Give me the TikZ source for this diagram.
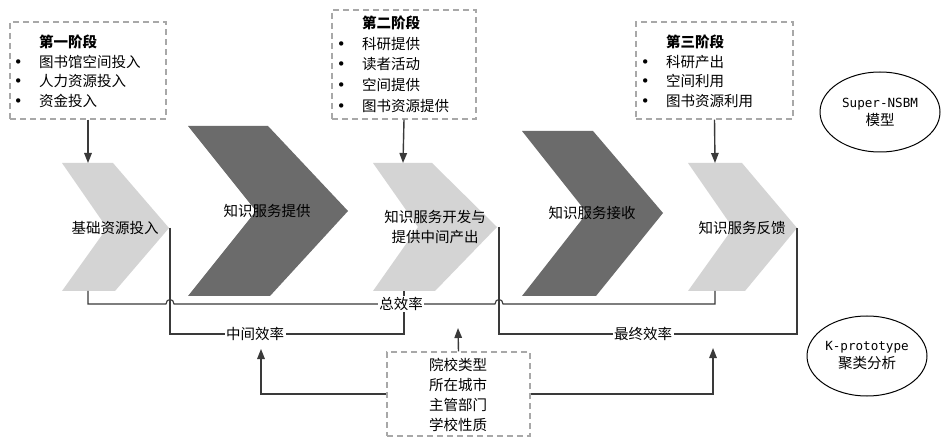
\documentclass[tikz,border=0pt]{standalone}
\usepackage{fontspec}
\setmainfont{Noto Sans CJK SC}
\newfontfamily\monofont{DejaVu Sans Mono}
\newfontfamily\bulfont{DejaVu Sans}
\usetikzlibrary{arrows.meta,shapes.geometric}
\definecolor{lightchev}{HTML}{D4D4D4}
\definecolor{darkchev}{HTML}{6B6B6B}
\definecolor{linec}{HTML}{3A3A3A}
\definecolor{dashc}{HTML}{A8A8A8}
\newcommand\stagebullet{\makebox[21pt][l]{\makebox[0pt][c]{\bulfont\fontsize{15}{15}\selectfont •}}}
\begin{document}
\begin{tikzpicture}[x=1pt,y=-1pt,
  lightshape/.style={fill=lightchev},
  darkshape/.style={fill=darkchev},
  dashbox/.style={draw=dashc, line width=1.1pt, dash pattern=on 6pt off 4pt, inner sep=0pt},
  stagetext/.style={anchor=base west, inner sep=0pt},
  chevlabel/.style={font=\fontsize{14.5}{20}\selectfont, inner sep=0pt, align=center, text=black},
  efflabel/.style={font=\fontsize{14.5}{18}\selectfont, fill=white, inner sep=1.5pt},
  conn/.style={draw=linec, line width=1.1pt},
  arr/.style={draw=linec, line width=1.4pt, -{Triangle[length=10pt,width=7.5pt]}},
  oval/.style={draw=black, line width=1pt, ellipse, minimum width=120pt, minimum height=80pt, inner sep=0pt, align=center, font=\fontsize{14.5}{18}\selectfont},
]
\useasboundingbox[fill=white] (0,0) rectangle (945,438);

% chevrons
\fill[lightshape] (62,163) -- (113,163) -- (169,228) -- (115,291) -- (62,291) -- (107,228) -- cycle;
\fill[darkshape] (188,126) -- (268,126) -- (348,211) -- (270,296) -- (188,296) -- (256,211) -- cycle;
\fill[lightshape] (373,163) -- (432,163) -- (497,227) -- (435,291) -- (373,291) -- (418,227) -- cycle;
\fill[darkshape] (522,131) -- (593,131) -- (663,213) -- (596,296) -- (522,296) -- (587,213) -- cycle;
\fill[lightshape] (688,163) -- (742,163) -- (797,228) -- (745,291) -- (688,291) -- (733,228) -- cycle;

\coordinate (c1top) at (88,163);
\coordinate (c1bot) at (88,291);
\coordinate (c1tip) at (170,228);
\coordinate (c3top) at (403,163);
\coordinate (c3bot) at (404,291);
\coordinate (c3tip) at (499,227);
\coordinate (c5top) at (715,163);
\coordinate (c5bot) at (715,291);
\coordinate (c5tip) at (797,228);

\node[chevlabel] (t1) at (115,228) {基础资源投入};
\node[chevlabel] (t2) at (267,211) {知识服务提供};
\node[chevlabel] (t3) at (435,227) {知识服务开发与\\提供中间产出};
\node[chevlabel] (t4) at (592,213) {知识服务接收};
\node[chevlabel] (t5) at (742,228) {知识服务反馈};

% stage boxes
\node[dashbox, minimum width=156pt, minimum height=97pt] (box1) at (88,70.5) {};
\node[stagetext, font=\fontsize{14.5}{19.7}\selectfont] (box1text) at (18,47.5) {\begin{tabular}[t]{@{}l@{}}
\hspace*{21pt}\textbf{第一阶段}\\
\stagebullet 图书馆空间投入\\
\stagebullet 人力资源投入\\
\stagebullet 资金投入
\end{tabular}};

\node[dashbox, minimum width=144pt, minimum height=109pt] (box2) at (404,64.5) {};
\node[stagetext, font=\fontsize{14.5}{20.7}\selectfont] (box2text) at (341,28.5) {\begin{tabular}[t]{@{}l@{}}
\hspace*{21pt}\textbf{第二阶段}\\
\stagebullet 科研提供\\
\stagebullet 读者活动\\
\stagebullet 空间提供\\
\stagebullet 图书资源提供
\end{tabular}};

\node[dashbox, minimum width=157pt, minimum height=97pt] (box3) at (714.5,70.5) {};
\node[stagetext, font=\fontsize{14.5}{19.7}\selectfont] (box3text) at (645,47.5) {\begin{tabular}[t]{@{}l@{}}
\hspace*{21pt}\textbf{第三阶段}\\
\stagebullet 科研产出\\
\stagebullet 空间利用\\
\stagebullet 图书资源利用
\end{tabular}};

\draw[arr] (box1.south) -- (c1top);
\draw[arr] (box2.south) -- (c3top);
\draw[arr] (box3.south) -- (c5top);

% efficiency brackets
\draw[conn] (c1bot) -- (88,304) -- (166,304) .. controls (166,298) and (174,298) .. (174,304) -- (495,304) .. controls (495,298) and (503,298) .. (503,304) -- (715,304) -- (c5bot);
\draw[conn] (c1tip) -- (170,334) -- (404,334) -- (c3bot);
\draw[conn] (c3tip) -- (499,334) -- (797,334) -- (c5tip);

\node[efflabel] (zong) at (401,304) {总效率};
\node[efflabel] (zhong) at (255,334) {中间效率};
\node[efflabel] (zui) at (643,334) {最终效率};

% attribute box
\node[dashbox, minimum width=143pt, minimum height=84pt] (attrbox) at (458.5,394) {};
\node[chevlabel] (attrtext) at (458,395) {院校类型\\所在城市\\主管部门\\学校性质};
\coordinate (zongin) at (458,328);
\coordinate (zhongin) at (261,349);
\coordinate (zuiin) at (713,348);
\draw[arr] (attrbox.north) -- (zongin);
\draw[arr] (attrbox.west) -| (zhongin);
\draw[arr] (attrbox.east) -| (zuiin);

% ellipses
\node[oval] (nsbm) at (880,112) {{\monofont\fontsize{12.6}{18}\selectfont Super-NSBM}\\模型};
\node[oval] (kproto) at (867,356) {{\monofont\fontsize{12.6}{18}\selectfont K-prototype}\\聚类分析};
\end{tikzpicture}
\end{document}
